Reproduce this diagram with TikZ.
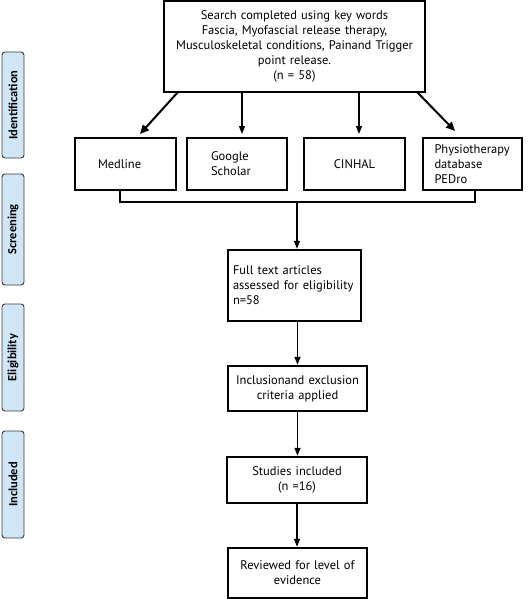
\documentclass[tikz,border=0pt]{standalone}
\usepackage{fontspec}
\setmainfont{PT Sans}
\newfontfamily\sidefont{Carlito}
\usetikzlibrary{arrows.meta}
\hyphenpenalty=10000
\exhyphenpenalty=10000
\definecolor{sideblue}{HTML}{CFE6F7}
\definecolor{sideedge}{HTML}{3A3A3A}
\tikzset{
  box/.style={draw=black, line width=2.4pt, inner sep=0pt, font=\fontsize{12.5}{15}\selectfont, fill=white},
  sidebox/.style={draw=sideedge, fill=sideblue, line width=0.9pt, rounded corners=3pt, rotate=90,
    minimum height=22pt, inner sep=0pt, font=\sidefont\bfseries\fontsize{12.5}{14}\selectfont},
  arr/.style={line width=1.3pt, -{Triangle[length=8pt,width=6pt]}},
  darr/.style={line width=2pt, -{Triangle[length=9pt,width=8pt]}},
  bracket/.style={line width=2.4pt}
}
\begin{document}
\begin{tikzpicture}[x=1pt,y=-1pt]
\useasboundingbox (0,0) rectangle (531,599);
% side labels
\node[sidebox, minimum width=106pt] (sid) at (13,105) {Identification};
\node[sidebox, minimum width=111pt] (sscr) at (13,229.5) {Screening};
\node[sidebox, minimum width=107pt] (selig) at (13,357.5) {Eligibility};
\node[sidebox, minimum width=107pt] (sinc) at (13,484.5) {Included};
% top box
\node[box, minimum width=261pt, minimum height=91pt, text width=254pt, align=center] (top) at (294.5,46.5)
  {Search completed using key words\\Fascia, Myofascial release therapy,\\Musculoskeletal conditions, Painand Trigger\\point release.\\(n = 58)};
% database boxes
\node[box, minimum width=101pt, minimum height=52pt, text width=55pt, align=left] (med) at (125.5,164) {Medline};
\node[box, minimum width=100pt, minimum height=52pt, text width=52pt, align=left] (goo) at (237,164) {Google\\Scholar};
\node[box, minimum width=101pt, minimum height=52pt, text width=87pt, align=center] (cin) at (354.5,164) {CINHAL};
\node[box, minimum width=99pt, minimum height=52pt, text width=76pt, align=left] (phy) at (472.5,164) {Physiotherapy\\database\\PEDro};
% lower boxes
\node[box, minimum width=133pt, minimum height=71pt, text width=123pt, align=left] (full) at (294.5,285.5)
  {Full text articles\\assessed for eligibility\\n=58};
\node[box, minimum width=139pt, minimum height=45pt, text width=133pt, align=center] (incl) at (297.5,388.5)
  {Inclusionand exclusion\\criteria applied};
\node[box, minimum width=140pt, minimum height=46pt, text width=133pt, align=center] (stud) at (297,480)
  {Studies included\\(n =16)};
\node[box, minimum width=139pt, minimum height=50pt, text width=133pt, align=center] (rev) at (297.5,573)
  {Reviewed for level of\\evidence};
% arrows from top box
\coordinate (t1) at (178,92);
\coordinate (h1) at (140,134);
\coordinate (t4) at (417,92);
\coordinate (h4) at (455,131);
\draw[darr] (t1) -- (h1);
\draw[darr] (t4) -- (h4);
\draw[arr] (242,92) -- (242,134);
\draw[arr] (359,92) -- (359,134);
% bracket
\coordinate (bl) at (120,202);
\coordinate (br) at (475,202);
\coordinate (bj) at (297,202);
\draw[bracket] (med.south -| bl) -- (bl) -- (br) -- (phy.south -| br);
\draw[arr] (bj) -- (bj |- full.north);
\draw[arr] (full.south -| incl) -- (incl.north);
\draw[arr] (incl.south) -- (incl.south |- stud.north);
\draw[arr] (stud.south) -- (stud.south |- rev.north);
\end{tikzpicture}
\end{document}
